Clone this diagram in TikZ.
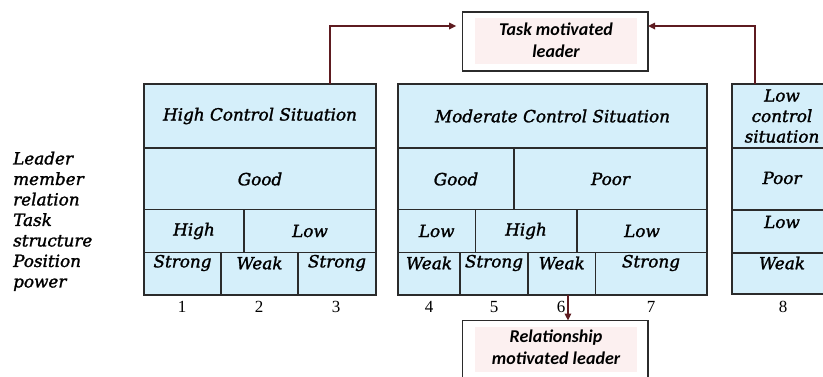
\documentclass[tikz,border=0pt]{standalone}
\usepackage{fontspec}
\setmainfont{DejaVu Serif}
\newfontfamily\cellfont[FakeBold=1.5]{DejaVu Serif}
\newfontfamily\calfont{Carlito}
\newfontfamily\numfont{Liberation Serif}
\usetikzlibrary{arrows.meta}

\definecolor{cellblue}{HTML}{D5EFFA}
\definecolor{gridline}{HTML}{2B2B2B}
\definecolor{linkred}{HTML}{5E1B20}
\definecolor{softpink}{HTML}{FCF0F0}

\tikzset{
  block/.style={draw=gridline, line width=1.6pt, fill=cellblue, anchor=north west, inner sep=0pt, outer sep=0pt},
  grid/.style={draw=gridline, line width=1.6pt},
  lbl/.style={font=\cellfont\fontsize{16.8}{20.5}\selectfont\itshape, inner sep=0pt, align=center},
  num/.style={font=\numfont\fontsize{17}{17}\selectfont, inner sep=0pt},
  leaderbox/.style={draw=gridline, line width=1.3pt, fill=white, anchor=north west, inner sep=0pt, outer sep=0pt},
  leadertext/.style={font=\calfont\bfseries\itshape\fontsize{18}{22}\selectfont, align=center, inner sep=0pt},
  link/.style={draw=linkred, line width=1.6pt, -{Triangle[length=7pt,width=6.5pt]}},
}

\begin{document}
\begin{tikzpicture}[x=1pt, y=-1pt]
\useasboundingbox (0,0) rectangle (823,376);
\clip (0,0) rectangle (823,376);

% leader boxes
\node[leaderbox, minimum width=185.3pt, minimum height=59pt] (task) at (462.7,12) {};
\fill[softpink] (475,18) rectangle (637,64);
\node[leadertext] (tasktext) at (556,40) {Task motivated\\leader};

\node[leaderbox, minimum width=185.3pt, minimum height=75pt] (rel) at (462.7,320.5) {};
\fill[softpink] (475,327) rectangle (637,372);
\node[leadertext] (reltext) at (556,347) {Relationship\\motivated leader};

% situation blocks
\node[block, minimum width=232pt, minimum height=211pt] (b1) at (144,84) {};
\node[block, minimum width=309pt, minimum height=211pt] (b2) at (398,84) {};
\node[block, minimum width=100pt, minimum height=210pt] (b3) at (732,84) {};

% rows and cells: block 1
\draw[grid] (144,148) -- (376,148) (144,209.5) -- (376,209.5) (144,252.5) -- (376,252.5);
\draw[grid] (244,209.5) -- (244,252.5) (221,252.5) -- (221,295) (298,252.5) -- (298,295);
% rows and cells: block 2
\draw[grid] (398,148) -- (707,148) (398,209.5) -- (707,209.5) (398,252.5) -- (707,252.5);
\draw[grid] (514,148) -- (514,209.5);
\draw[grid] (475.5,209.5) -- (475.5,252.5) (577,209.5) -- (577,252.5);
\draw[grid] (460,252.5) -- (460,295) (528,252.5) -- (528,295) (595.5,252.5) -- (595.5,295);
% rows: block 3
\draw[grid] (732,148) -- (832,148) (732,210) -- (832,210) (732,253) -- (832,253);

% block 1 labels
\node[lbl] (h1) at (260,116) {High Control Situation};
\node[lbl] (h1r) at (260,179) {Good};
\node[lbl] (h1ta) at (194,231) {High};
\node[lbl] (h1tb) at (310,231) {Low};
\node[lbl] (h1pa) at (182.5,263) {Strong};
\node[lbl] (h1pb) at (259.5,263) {Weak};
\node[lbl] (h1pc) at (337,263) {Strong};

% block 2 labels
\node[lbl] (h2) at (552.5,116) {Moderate Control Situation};
\node[lbl] (h2ra) at (456,179) {Good};
\node[lbl] (h2rb) at (610.5,179) {Poor};
\node[lbl] (h2ta) at (436.7,231) {Low};
\node[lbl] (h2tb) at (526,231) {High};
\node[lbl] (h2tc) at (642,231) {Low};
\node[lbl] (h2pa) at (429,263) {Weak};
\node[lbl] (h2pb) at (494,263) {Strong};
\node[lbl] (h2pc) at (561.7,263) {Weak};
\node[lbl] (h2pd) at (651,263) {Strong};

% block 3 labels
\node[lbl] (h3) at (782,116) {Low\\control\\situation};
\node[lbl] (h3r) at (782,178) {Poor};
\node[lbl] (h3t) at (782,222) {Low};
\node[lbl] (h3p) at (782,263) {Weak};

% factor names
\node[lbl, align=left, anchor=north west] (factors) at (13,151.5)
  {Leader\\member\\relation\\Task\\structure\\Position\\power};

% octant numbers
\node[num] (n1) at (182,307) {1};
\node[num] (n2) at (259,307) {2};
\node[num] (n3) at (336,307) {3};
\node[num] (n4) at (429,307) {4};
\node[num] (n5) at (494,307) {5};
\node[num] (n6) at (561,307) {6};
\node[num] (n7) at (651,307) {7};
\node[num] (n8) at (783,307) {8};

% links to the leader types
\draw[link, shorten >=6.5pt] ([xshift=-46pt]b1.north east) |- ([yshift=15.5pt]task.west);
\draw[link] ([xshift=23pt]b3.north west) |- ([yshift=15.5pt]task.east);
\draw[link] ([xshift=170pt]b2.south west) -- ([xshift=12.6pt]rel.north);
\end{tikzpicture}
\end{document}
